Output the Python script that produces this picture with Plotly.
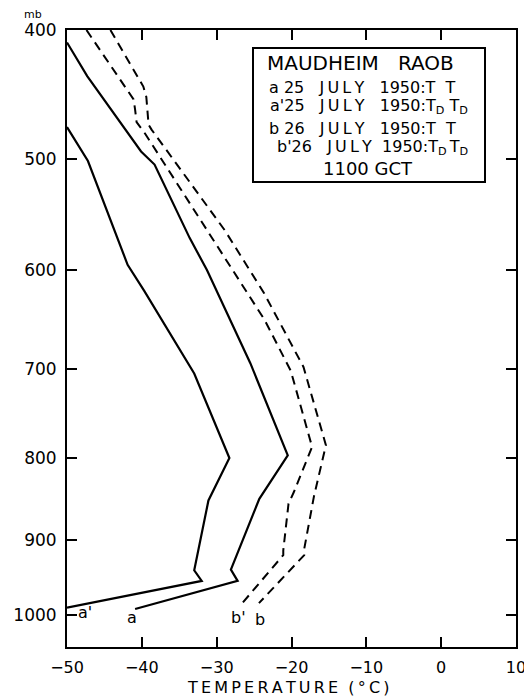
import plotly.graph_objects as go

# ---- data (pressure in mb, temperature in deg C) ----
P_a = [409, 434, 494, 505, 570, 600, 694, 797, 849, 939, 954, 992]
T_a = [-50, -47.3, -40.1, -38.3, -33.6, -31.3, -25.5, -20.5, -24.3, -28.1, -27.2, -40.9]

P_a1 = [474, 502, 595, 620, 705, 800, 851, 940, 954, 990]
T_a1 = [-50, -47.2, -41.9, -39.7, -33.0, -28.3, -31.1, -33.0, -32.0, -50]

P_b = [400, 442, 450, 472, 476, 563, 622, 698, 785, 846, 912, 920, 984]
T_b = [-44.2, -39.8, -39.4, -39.1, -38.7, -28.9, -23.7, -18.4, -15.4, -17.0, -18.3, -18.3, -24.35]

P_b1 = [400, 443, 452, 460, 470, 479, 563, 649, 702, 787, 841, 855, 914, 920, 983]
T_b1 = [-47.4, -42.2, -41.1, -40.9, -40.7, -39.6, -31.2, -23.6, -20.1, -17.25, -19.7, -20.4, -21.1, -21.1, -26.5]

P_ticks = [400, 500, 600, 700, 800, 900, 1000]
T_ticks = [-50, -40, -30, -20, -10, 0, 10]
P_TOP, P_BOTTOM = 400, 1045

KAPPA = 0.286  # Stuve diagram: vertical coordinate p**kappa


def s(p):
    return [v ** KAPPA for v in p] if isinstance(p, list) else p ** KAPPA


FONT = "DejaVu Sans"
fig = go.Figure()
fig.add_trace(go.Scatter(x=T_a, y=s(P_a), mode="lines", line=dict(color="black", width=2.2)))
fig.add_trace(go.Scatter(x=T_a1, y=s(P_a1), mode="lines", line=dict(color="black", width=2.2)))
fig.add_trace(go.Scatter(x=T_b, y=s(P_b), mode="lines",
                         line=dict(color="black", width=2, dash="9px,6px")))
fig.add_trace(go.Scatter(x=T_b1, y=s(P_b1), mode="lines",
                         line=dict(color="black", width=2, dash="9px,6px")))

# page has an 8px body margin; size the figure so the plot frame lands where the reference has it
O = 8
W, H = 532 - O, 698 - O
L, R, T, B = 67 - O, 16, 30 - O, 51
pw, ph = W - L - R, H - T - B


def px(x):  # reference page pixel -> paper fraction
    return (x - O - L) / pw


def py(y):
    return (H - B - (y - O)) / ph


fig.update_layout(
    width=W, height=H, margin=dict(l=L, r=R, t=T, b=B, autoexpand=False),
    paper_bgcolor="white", plot_bgcolor="white", showlegend=False,
    font=dict(family=FONT, color="black", size=16),
    xaxis=dict(range=[-50, 10], tickvals=T_ticks, ticks="inside", ticklen=10, tickwidth=2,
               tickcolor="black", showline=True, linewidth=2, linecolor="black", mirror="ticks",
               showgrid=False, zeroline=False, tickfont=dict(size=16, family=FONT),
               ticklabelstandoff=5, automargin=False),
    yaxis=dict(range=[s(P_BOTTOM), s(P_TOP)], tickvals=s(P_ticks), ticktext=[str(p) for p in P_ticks],
               ticks="inside", ticklen=10, tickwidth=2, tickcolor="black", showline=True,
               linewidth=2, linecolor="black", mirror="ticks", showgrid=False, zeroline=False,
               tickfont=dict(size=17, family=FONT), ticklabelstandoff=5, automargin=False),
)

TH = "\u2009"
NB = "\u00a0"

# x axis title
fig.add_annotation(text=TH.join("TEMPERATURE") + NB + NB + "(" + TH + "°" + TH + "C" + TH + ")",
                   xref="paper", yref="paper", x=px(288), y=py(687), showarrow=False,
                   xanchor="center", yanchor="middle", font=dict(size=16, family=FONT))

# "mb" unit label
fig.add_annotation(text="mb", xref="paper", yref="paper", x=px(33), y=py(14.5), showarrow=False,
                   xanchor="center", yanchor="middle", font=dict(size=11, family=FONT))

# legend box
fig.add_shape(type="rect", xref="paper", yref="paper", x0=px(253), x1=px(485), y0=py(182), y1=py(48),
              line=dict(color="black", width=2), fillcolor="white")

JULY = TH.join("JULY")
legend_lines = [
    ("MAUDHEIM" + NB + NB + NB + "RAOB", 265, 63, 20),
    ("a" + NB + "25" + NB + NB + NB + JULY + NB + NB + NB + "1950:T" + NB + NB + "T", 267, 87, 16),
    ("a'25" + NB + NB + NB + JULY + NB + NB + NB + "1950:T<sub>D</sub>" + NB + "T<sub>D</sub>", 268, 107, 16),
    ("b" + NB + "26" + NB + NB + NB + JULY + NB + NB + NB + "1950:T" + NB + NB + "T", 267, 128, 16),
    ("b'26" + NB + NB + NB + JULY + NB + NB + "1950:T<sub>D</sub>" + TH + "T<sub>D</sub>", 275, 148, 16),
    ("1100" + NB + "GCT", 321, 168, 18),
]
for txt, x, y, fs in legend_lines:
    fig.add_annotation(text=txt, xref="paper", yref="paper", x=px(x), y=py(y), xanchor="left",
                       yanchor="middle", showarrow=False, font=dict(size=fs, family=FONT))

# curve labels (data coordinates)
curve_labels = [("a'", -47.6, 997), ("a", -41.3, 1004), ("b'", -27.1, 1004), ("b", -24.2, 1007)]
for txt, tx, pp in curve_labels:
    fig.add_annotation(text=txt, x=tx, y=s(pp), showarrow=False, xanchor="center", yanchor="middle",
                       font=dict(size=16, family=FONT))

fig.write_html("out.html")
